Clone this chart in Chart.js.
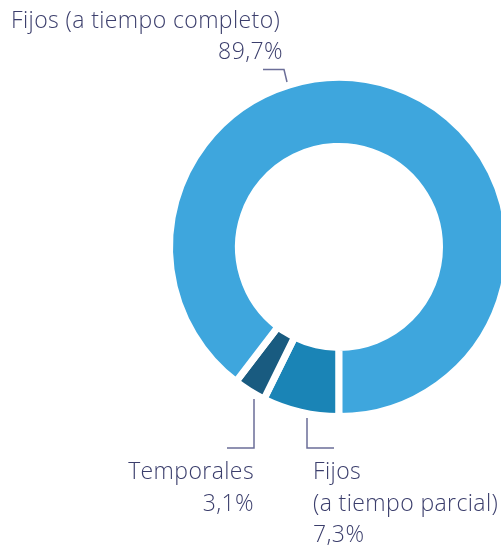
<!DOCTYPE html>
<html><head><meta charset="utf-8">
<script src="https://cdn.jsdelivr.net/npm/chart.js@4"></script>
<style>
html,body{margin:0;padding:0;background:#fff;overflow:hidden;}
#wrap{width:501px;height:550px;overflow:hidden;position:relative;}
canvas{position:absolute;left:0;top:0;}
</style></head>
<body>
<div id="wrap"><canvas id="c" width="600" height="550"></canvas></div>
<script>
const categories = ["Fijos (a tiempo parcial)", "Temporales", "Fijos (a tiempo completo)"];
const values = [7.3, 3.1, 89.7];
const valueLabels = ["7,3%", "3,1%", "89,7%"];
const colors = ["#1a84b6", "#195b80", "#3ea6dd"];

const TEXT = "#3b3e6c";
const LINE = "#6b6e98";
const FONT = '300 23px "Open Sans", "Noto Sans", sans-serif';

const labelPlugin = {
  id: 'labels',
  afterDraw(chart) {
    const ctx = chart.ctx;
    ctx.save();
    ctx.strokeStyle = LINE;
    ctx.lineWidth = 1.5;
    ctx.beginPath();
    ctx.moveTo(263, 69.5); ctx.lineTo(284, 69.5); ctx.lineTo(287, 82);
    ctx.moveTo(254, 399); ctx.lineTo(254, 448); ctx.lineTo(227, 448);
    ctx.moveTo(307, 418); ctx.lineTo(307, 448); ctx.lineTo(334, 448);
    ctx.stroke();
    ctx.fillStyle = TEXT;
    ctx.font = FONT;
    try { ctx.letterSpacing = '0.4px'; } catch (e) {}
    ctx.textBaseline = 'alphabetic';
    ctx.textAlign = 'left';
    ctx.fillText("Fijos (a tiempo completo)", 11, 28);
    ctx.textAlign = 'right';
    ctx.fillText(valueLabels[2], 283, 59);
    ctx.fillText("Temporales", 254, 479);
    ctx.fillText(valueLabels[1], 254, 511);
    ctx.textAlign = 'left';
    ctx.fillText("Fijos", 313, 479);
    ctx.fillText("(a tiempo parcial)", 313, 511);
    ctx.fillText(valueLabels[0], 313, 542);
    ctx.restore();
  }
};

new Chart(document.getElementById('c'), {
  type: 'doughnut',
  data: {
    labels: categories,
    datasets: [{
      data: values,
      backgroundColor: colors,
      borderColor: '#ffffff',
      borderWidth: 7,
      hoverOffset: 0
    }]
  },
  options: {
    responsive: false,
    animation: false,
    rotation: 180,
    cutout: '59.3%',
    layout: { padding: { left: 166, right: 88, top: 74, bottom: 130 } },
    plugins: { legend: { display: false }, tooltip: { enabled: false } }
  },
  plugins: [labelPlugin]
});
</script>
</body></html>
